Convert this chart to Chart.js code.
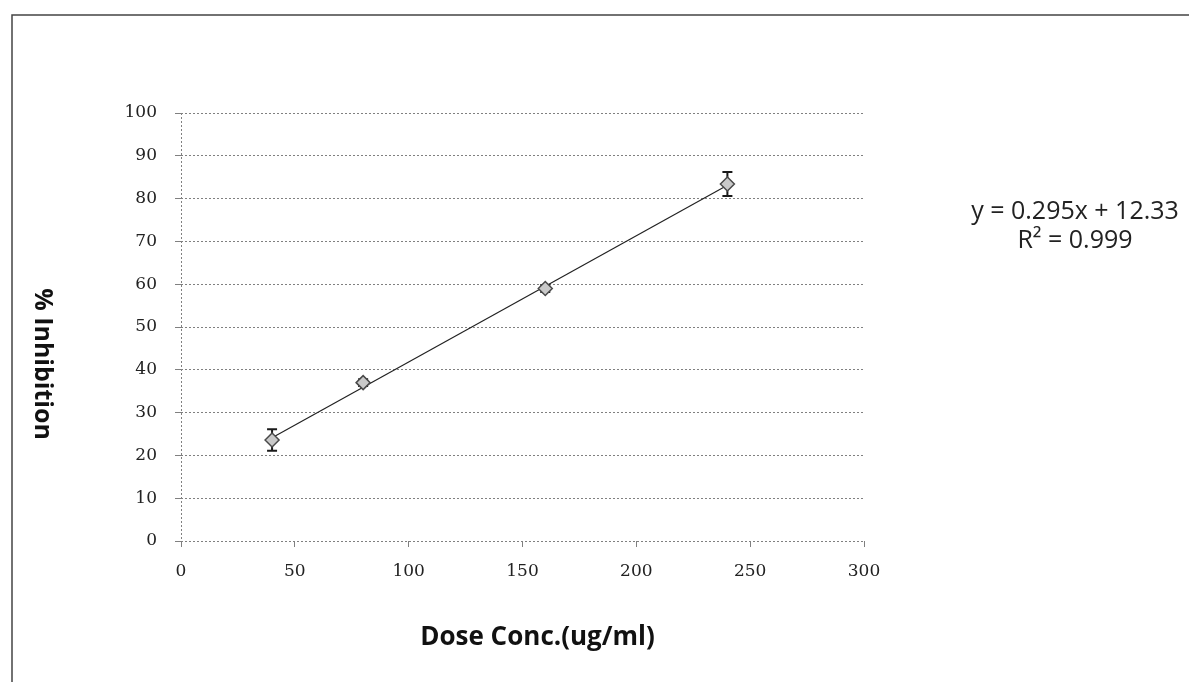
<!DOCTYPE html>
<html>
<head>
<meta charset="utf-8">
<script src="https://cdn.jsdelivr.net/npm/chart.js@4.4.1/dist/chart.umd.min.js"></script>
<style>
  html, body { margin: 0; padding: 0; background: #fff; }
</style>
</head>
<body>
<canvas id="chart" width="1189" height="682"></canvas>
<script>
// values
const doseConc = [40, 80, 160, 240];
const inhibition = [23.6, 37.0, 59.0, 83.4];
const inhibitionErr = [2.5, 0.8, 0.8, 2.8];
const trendX = [40, 240];
const trendY = [24.13, 83.13];
const xTicks = [0, 50, 100, 150, 200, 250, 300];
const yTicks = [0, 10, 20, 30, 40, 50, 60, 70, 80, 90, 100];
const equationLines = ['y = 0.295x + 12.33', 'R² = 0.999'];
const xTitle = 'Dose Conc.(ug/ml)';
const yTitle = '% Inhibition';

const gridColor = '#808080';
const tickFont = { family: '"DejaVu Serif", serif', size: 17 };

const errorBars = {
  id: 'errorBars',
  beforeDatasetsDraw(chart) {
    const { ctx, scales: { x, y } } = chart;
    ctx.save();
    ctx.strokeStyle = '#1a1a1a';
    ctx.lineWidth = 2;
    doseConc.forEach((d, i) => {
      const px = x.getPixelForValue(d);
      const top = y.getPixelForValue(inhibition[i] + inhibitionErr[i]);
      const bottom = y.getPixelForValue(inhibition[i] - inhibitionErr[i]);
      ctx.beginPath();
      ctx.moveTo(px, top);
      ctx.lineTo(px, bottom);
      ctx.moveTo(px - 5, top);
      ctx.lineTo(px + 5, top);
      ctx.moveTo(px - 5, bottom);
      ctx.lineTo(px + 5, bottom);
      ctx.stroke();
    });
    ctx.restore();
  },
};

const extras = {
  id: 'extras',
  afterDraw(chart) {
    const { ctx, chartArea: area } = chart;
    ctx.save();
    // scanned frame
    ctx.strokeStyle = '#444';
    ctx.lineWidth = 1.5;
    ctx.beginPath();
    ctx.moveTo(12, chart.height);
    ctx.lineTo(12, 15);
    ctx.lineTo(chart.width, 15);
    ctx.stroke();

    ctx.fillStyle = '#111';
    ctx.textAlign = 'center';
    ctx.textBaseline = 'middle';
    ctx.font = 'bold 26px "Open Sans", sans-serif';
    ctx.fillText(xTitle, (area.left + area.right) / 2 + 15, area.bottom + 97);

    ctx.font = 'bold 25px "Open Sans", sans-serif';
    ctx.save();
    ctx.translate(area.left - 139, (area.top + area.bottom) / 2 + 37);
    ctx.rotate(Math.PI / 2);
    ctx.fillText(yTitle, 0, 0);
    ctx.restore();

    ctx.font = '25px "Open Sans", sans-serif';
    ctx.fillStyle = '#222';
    ctx.fillText(equationLines[0], area.right + 211, 212);
    ctx.fillText(equationLines[1], area.right + 211, 241);
    ctx.restore();
  },
};

new Chart(document.getElementById('chart'), {
  type: 'scatter',
  data: {
    datasets: [
      {
        data: doseConc.map((d, i) => ({ x: d, y: inhibition[i] })),
        pointStyle: 'rectRot',
        pointRadius: 7,
        backgroundColor: '#c9c9c9',
        borderColor: '#4a4a4a',
        borderWidth: 1.5,
        order: 1,
      },
      {
        type: 'line',
        data: trendX.map((d, i) => ({ x: d, y: trendY[i] })),
        borderColor: '#222',
        borderWidth: 1.2,
        pointRadius: 0,
        showLine: true,
        order: 2,
      },
    ],
  },
  options: {
    responsive: false,
    animation: false,
    layout: { padding: { top: 113, right: 325, left: 0, bottom: 0 } },
    plugins: { legend: { display: false }, tooltip: { enabled: false } },
    scales: {
      x: {
        type: 'linear',
        min: 0,
        max: 300,
        afterBuildTicks: (scale) => { scale.ticks = xTicks.map((value) => ({ value })); },
        afterFit: (scale) => { scale.height = 141; },
        ticks: { font: tickFont, color: '#222', padding: 14, maxRotation: 0 },
        grid: {
          color: (c) => (c.tick && c.tick.value === 0 ? gridColor : 'rgba(0,0,0,0)'),
          tickColor: gridColor,
          tickLength: 6,
        },
        border: { display: false, dash: [2, 2] },
      },
      y: {
        min: 0,
        max: 100,
        afterBuildTicks: (scale) => { scale.ticks = yTicks.map((value) => ({ value })); },
        afterFit: (scale) => { scale.width = 181; },
        ticks: { font: tickFont, color: '#222', padding: 18 },
        grid: { color: gridColor, tickColor: gridColor, tickLength: 6 },
        border: { display: false, dash: [2, 2] },
      },
    },
  },
  plugins: [errorBars, extras],
});
</script>
</body>
</html>
